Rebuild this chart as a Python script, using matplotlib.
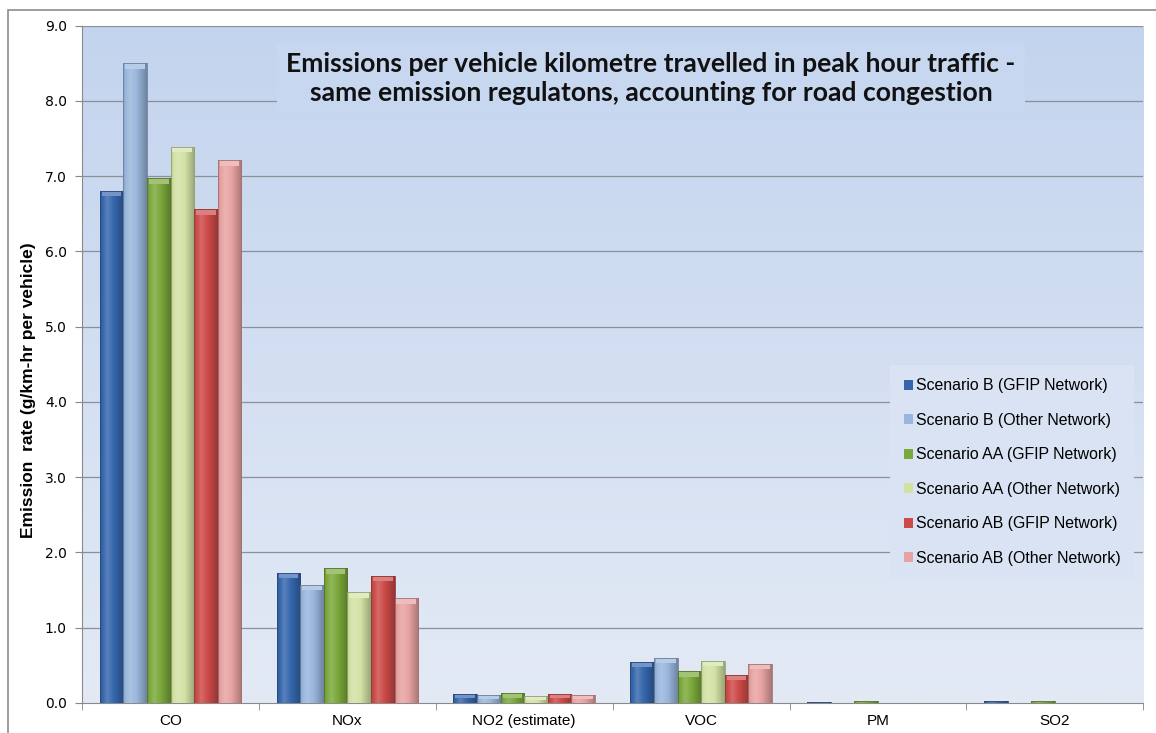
import numpy as np
import matplotlib
matplotlib.use("Agg")
import matplotlib.pyplot as plt
from matplotlib.patches import Rectangle
from matplotlib.colors import to_rgb

categories = ["CO", "NOx", "NO2 (estimate)", "VOC", "PM", "SO2"]
series_names = ["Scenario B (GFIP Network)", "Scenario B (Other Network)",
                "Scenario AA (GFIP Network)", "Scenario AA (Other Network)",
                "Scenario AB (GFIP Network)", "Scenario AB (Other Network)"]
b_gfip = [6.80, 1.73, 0.12, 0.55, 0.01, 0.02]
b_other = [8.50, 1.57, 0.10, 0.60, 0.005, 0.005]
aa_gfip = [6.97, 1.79, 0.13, 0.42, 0.02, 0.02]
aa_other = [7.39, 1.47, 0.09, 0.56, 0.005, 0.005]
ab_gfip = [6.56, 1.69, 0.12, 0.37, 0.005, 0.005]
ab_other = [7.21, 1.39, 0.11, 0.52, 0.005, 0.005]
series = [b_gfip, b_other, aa_gfip, aa_other, ab_gfip, ab_other]
colors = ["#3566ad", "#98b6dc", "#7aa83a", "#d2e2a4", "#cc4a47", "#e7a2a1"]
yticks = [0, 1, 2, 3, 4, 5, 6, 7, 8, 9]

fig = plt.figure(figsize=(11.56, 7.33), dpi=100)
fig.patch.set_facecolor("white")
fig.add_artist(Rectangle((0.007, -0.01), 1.2, 0.986 + 0.01, transform=fig.transFigure,
                         fill=False, edgecolor="#8c8c8c", lw=1.2))

ax = fig.add_axes([0.071, 0.041, 0.918, 0.924])
nc = len(categories)

top = np.array(to_rgb("#c3d4ee"))
bot = np.array(to_rgb("#e3eaf5"))

def bg_at(frac_from_top):
    return top * (1 - frac_from_top) + bot * frac_from_top

t = np.linspace(0, 1, 256)[:, None]
grad = (top * (1 - t) + bot * t)[:, None, :].repeat(2, axis=1)
ax.imshow(grad, extent=[-0.5, nc - 0.5, 0, 9], aspect="auto", zorder=0, origin="upper")

for y in yticks[1:]:
    ax.axhline(y, color="#8a8f98", lw=0.9, zorder=1)

n = len(series)
group_w = 0.8
bw = group_w / n
x = np.arange(nc)

def shade(c, f):
    c = np.array(to_rgb(c))
    if f >= 0:
        return c + (1 - c) * f
    return c * (1 + f)

for i, (vals, col) in enumerate(zip(series, colors)):
    xs = x - group_w / 2 + bw * (i + 0.5)
    bars = ax.bar(xs, vals, width=bw, color=col, edgecolor="none", zorder=3,
                  label=series_names[i])
    for b in bars:
        x0, w, h = b.get_x(), b.get_width(), b.get_height()
        if h <= 0:
            continue
        u = np.linspace(0, 1, 64)
        prof = np.where(u < 0.3, -0.1 + 0.28 * (u / 0.3), 0.18 - 0.45 * ((u - 0.3) / 0.7))
        img = np.array([shade(col, p) for p in prof])[None, :, :]
        im = ax.imshow(img, extent=[x0, x0 + w, 0, h], aspect="auto", zorder=3.5,
                       interpolation="bilinear")
        im.set_clip_path(b)
        capH = min(0.07, h * 0.5)
        ax.add_patch(Rectangle((x0 + w * 0.08, h - capH), w * 0.84, capH,
                               facecolor=shade(col, 0.3), edgecolor="none", zorder=4))
        ax.add_patch(Rectangle((x0, 0), w, h, fill=False, edgecolor=shade(col, -0.3),
                               lw=0.6, zorder=4.2))
ax.set_xlim(-0.5, nc - 0.5)
ax.set_ylim(0, 9)

ax.set_yticks(yticks)
ax.set_yticklabels([f"{v:.1f}" for v in yticks], fontfamily="DejaVu Sans", fontsize=10)
ax.set_xticks(x)
ax.set_xticklabels(categories, fontfamily="Liberation Sans", fontsize=11)
ax.set_xticks(np.arange(nc + 1) - 0.5, minor=True)
ax.tick_params(axis="x", which="major", length=0, pad=8)
ax.tick_params(axis="x", which="minor", length=5, color="#888888", direction="out")
ax.tick_params(axis="y", length=5, color="#888888", direction="out", pad=6)
for s in ["top", "right"]:
    ax.spines[s].set_visible(False)
ax.spines["left"].set_color("#8a8a8a")
ax.spines["bottom"].set_color("#8a8a8a")
ax.set_ylabel("Emission  rate (g/km-hr per vehicle)", fontfamily="Liberation Sans",
              fontsize=12.5, fontweight="bold")
ax.yaxis.set_label_coords(-0.043, 0.462)

ax.text(0.536, 0.922,
        "Emissions per vehicle kilometre travelled in peak hour traffic -\nsame emission regulatons, accounting for road congestion",
        transform=ax.transAxes, ha="center", va="center", fontfamily="Lato",
        fontweight="bold", fontsize=19.1, linespacing=1.22, zorder=6, color="#111111",
        bbox=dict(boxstyle="square,pad=0.35", facecolor=bg_at(0.1) * 0.98 + 0.02,
                  edgecolor="none"))

leg = ax.legend(loc="upper left", bbox_to_anchor=(0.766, 0.492), frameon=True,
                prop={"family": "Liberation Sans", "size": 11.4}, labelspacing=1.23,
                handlelength=0.57, handleheight=0.57, handletextpad=0.2,
                borderpad=0.55, borderaxespad=0)
leg.get_frame().set_facecolor(bg_at(0.67) * 0.98 + 0.02)
leg.get_frame().set_edgecolor("none")
leg.get_frame().set_alpha(1)
leg.get_frame().set_boxstyle("square")
leg.set_zorder(6)

fig.savefig("out.png", dpi=100)
